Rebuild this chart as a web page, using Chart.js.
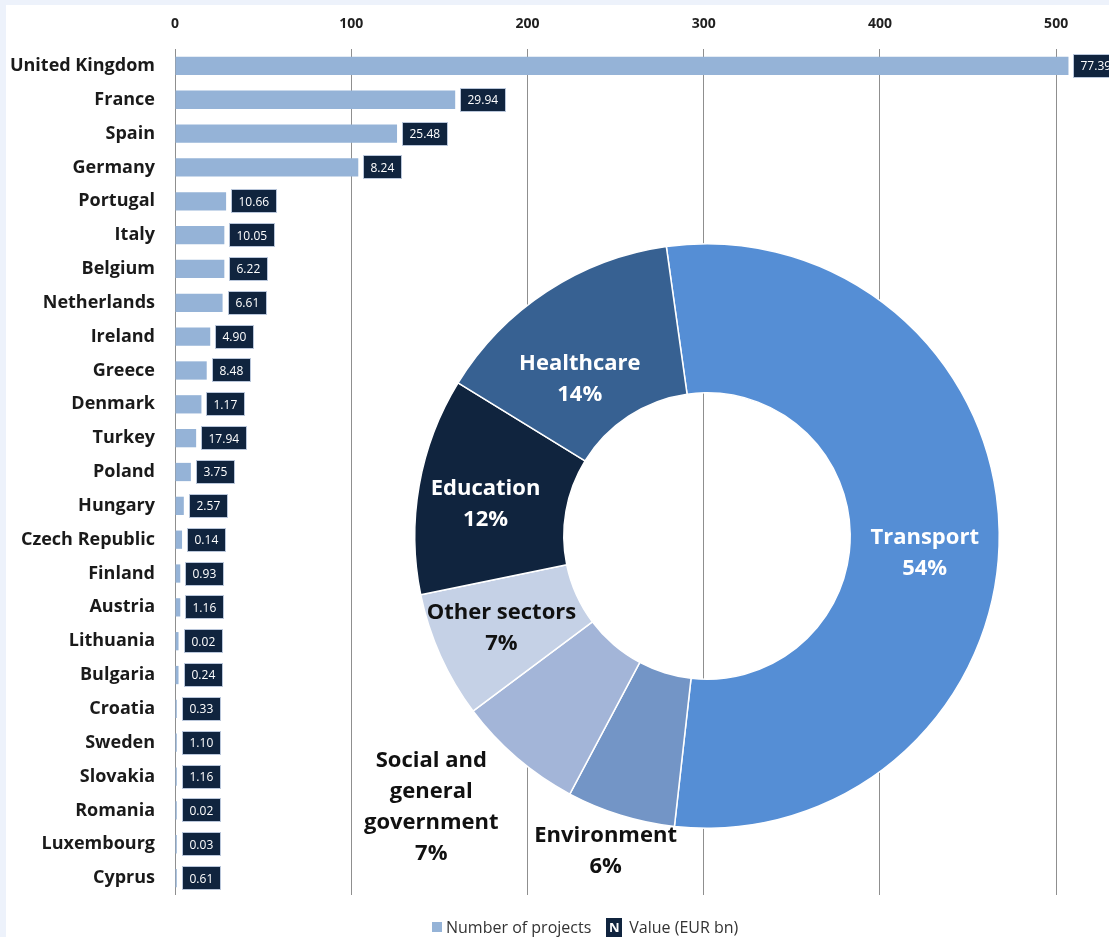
<!DOCTYPE html>
<html>
<head>
<meta charset="utf-8">
<script src="https://cdn.jsdelivr.net/npm/chart.js@4.4.0/dist/chart.umd.min.js"></script>
<style>
html, body { margin: 0; padding: 0; background: #fff; }
#wrap { position: relative; width: 1109px; height: 937px; overflow: hidden; }
#wrap canvas { position: absolute; left: 0; top: 0; }
#pie { pointer-events: none; }
#legend { position: absolute; top: 917px; left: 432px; height: 20px; display: flex; align-items: center;
  font: 16px "Open Sans"; color: #333; white-space: nowrap; }
#legend .sw { width: 10px; height: 10px; background: #95b3d7; margin-right: 4px; }
#legend .nb { width: 16px; height: 19px; background: #10243e; color: #fff; font: bold 13px "Open Sans";
  text-align: center; line-height: 19px; margin: 0 7px 0 15px; }
</style>
</head>
<body>
<div id="wrap">
  <canvas id="bars" width="1109" height="937"></canvas>
  <canvas id="pie" width="1109" height="937"></canvas>
  <div id="legend"><span class="sw"></span><span>Number of projects</span><span class="nb">N</span><span>Value (EUR bn)</span></div>
</div>
<script>
const countries = ['United Kingdom', 'France', 'Spain', 'Germany', 'Portugal', 'Italy', 'Belgium', 'Netherlands',
  'Ireland', 'Greece', 'Denmark', 'Turkey', 'Poland', 'Hungary', 'Czech Republic', 'Finland', 'Austria',
  'Lithuania', 'Bulgaria', 'Croatia', 'Sweden', 'Slovakia', 'Romania', 'Luxembourg', 'Cyprus'];
const projects = [507, 159, 126, 104, 29, 28, 28, 27, 20, 18, 15, 12, 9, 5, 4, 3, 3, 2, 2, 1, 1, 1, 1, 1, 1];
const valueBn = [77.39, 29.94, 25.48, 8.24, 10.66, 10.05, 6.22, 6.61, 4.90, 8.48, 1.17, 17.94, 3.75, 2.57,
  0.14, 0.93, 1.16, 0.02, 0.24, 0.33, 1.10, 1.16, 0.02, 0.03, 0.61];
const xTicks = [0, 100, 200, 300, 400, 500];

const sectors = ['Transport', 'Environment', ['Social and', 'general', 'government'], 'Other sectors', 'Education', 'Healthcare'];
const sectorShare = [54, 6, 7, 7, 12, 14];

// light blue frame at top/left, white chart face
const frameBg = {
  id: 'frameBg',
  beforeDraw(chart) {
    const c = chart.ctx;
    c.save();
    c.fillStyle = '#edf2fb';
    c.fillRect(0, 0, chart.width, chart.height);
    c.fillStyle = '#ffffff';
    c.fillRect(6, 5, chart.width - 6, chart.height - 5);
    c.restore();
  }
};

// dark boxes with the EUR bn value next to each bar
const valueBoxes = {
  id: 'valueBoxes',
  afterDatasetsDraw(chart) {
    const c = chart.ctx;
    const bars = chart.getDatasetMeta(0).data;
    c.save();
    c.font = '12px "Open Sans"';
    c.textBaseline = 'middle';
    bars.forEach((bar, i) => {
      const txt = valueBn[i].toFixed(2);
      const w = Math.round(c.measureText(txt).width + 15);
      const x0 = Math.round(bar.x) + 5, y0 = Math.round(bar.y) - 12;
      c.fillStyle = '#10243e';
      c.fillRect(x0, y0, w, 24);
      c.strokeStyle = '#b9c6da';
      c.lineWidth = 1;
      c.strokeRect(x0 + 0.5, y0 + 0.5, w - 1, 23);
      c.fillStyle = '#ffffff';
      c.fillText(txt, x0 + 7.5, bar.y + 1);
    });
    c.restore();
  }
};

new Chart(document.getElementById('bars'), {
  type: 'bar',
  data: {
    labels: countries,
    datasets: [{ label: 'Number of projects', data: projects, backgroundColor: '#95b3d7',
      categoryPercentage: 1, barPercentage: 0.54 }]
  },
  options: {
    indexAxis: 'y',
    responsive: false,
    animation: false,
    layout: { padding: { left: 6, top: 5, right: 0, bottom: 42 } },
    plugins: { legend: { display: false }, tooltip: { enabled: false } },
    scales: {
      x: {
        position: 'top', min: 0, max: 530,
        afterBuildTicks: s => { s.ticks = xTicks.map(v => ({ value: v })); },
        grid: { color: '#8f8f8f', drawTicks: false },
        border: { display: false },
        ticks: { font: { family: 'Open Sans', weight: 'bold', size: 14 }, color: '#1f1f1f', padding: 17 },
        afterFit: s => { s.height = 44; }
      },
      y: {
        grid: { display: false, drawTicks: false },
        border: { display: false },
        ticks: { font: { family: 'Open Sans', weight: 'bold', size: 18 }, color: '#1a1a1a', padding: 20, autoSkip: false },
        afterFit: s => { s.width = 169; }
      }
    }
  },
  plugins: [frameBg, valueBoxes]
});

// sector name + share written on (or next to) each slice
const sliceLabels = {
  id: 'sliceLabels',
  afterDatasetsDraw(chart, args, opts) {
    const c = chart.ctx;
    const arcs = chart.getDatasetMeta(0).data;
    const total = sectorShare.reduce((a, b) => a + b, 0);
    c.save();
    c.font = 'bold 22px "Open Sans"';
    c.textAlign = 'center';
    c.textBaseline = 'middle';
    arcs.forEach((arc, i) => {
      const mid = (arc.startAngle + arc.endAngle) / 2;
      const r = (arc.innerRadius + arc.outerRadius) / 2;
      const [dx, dy] = opts.nudge[i];
      const lines = [].concat(sectors[i], Math.round(sectorShare[i] / total * 100) + '%');
      const cx = arc.x + Math.cos(mid) * r + dx;
      const cy = arc.y + Math.sin(mid) * r + dy;
      c.fillStyle = opts.colors[i];
      lines.forEach((t, k) => c.fillText(t, cx, cy + (k - (lines.length - 1) / 2) * 31));
    });
    c.restore();
  }
};

new Chart(document.getElementById('pie'), {
  type: 'doughnut',
  data: {
    labels: sectors,
    datasets: [{
      data: sectorShare,
      backgroundColor: ['#558ed5', '#7395c6', '#a3b5d8', '#c5d1e6', '#10243e', '#376192'],
      borderColor: '#ffffff',
      borderWidth: 1.5
    }]
  },
  options: {
    responsive: false,
    animation: false,
    rotation: -8,
    cutout: '49%',
    layout: { padding: { left: 414, right: 109, top: 243, bottom: 108 } },
    plugins: {
      legend: { display: false },
      tooltip: { enabled: false },
      sliceLabels: {
        colors: ['#ffffff', '#111111', '#111111', '#111111', '#ffffff', '#ffffff'],
        nudge: [[0, 20], [-37, 107], [-134, 106], [-7, 3], [-7, 6], [-8, 25]]
      }
    }
  },
  plugins: [sliceLabels]
});
</script>
</body>
</html>
